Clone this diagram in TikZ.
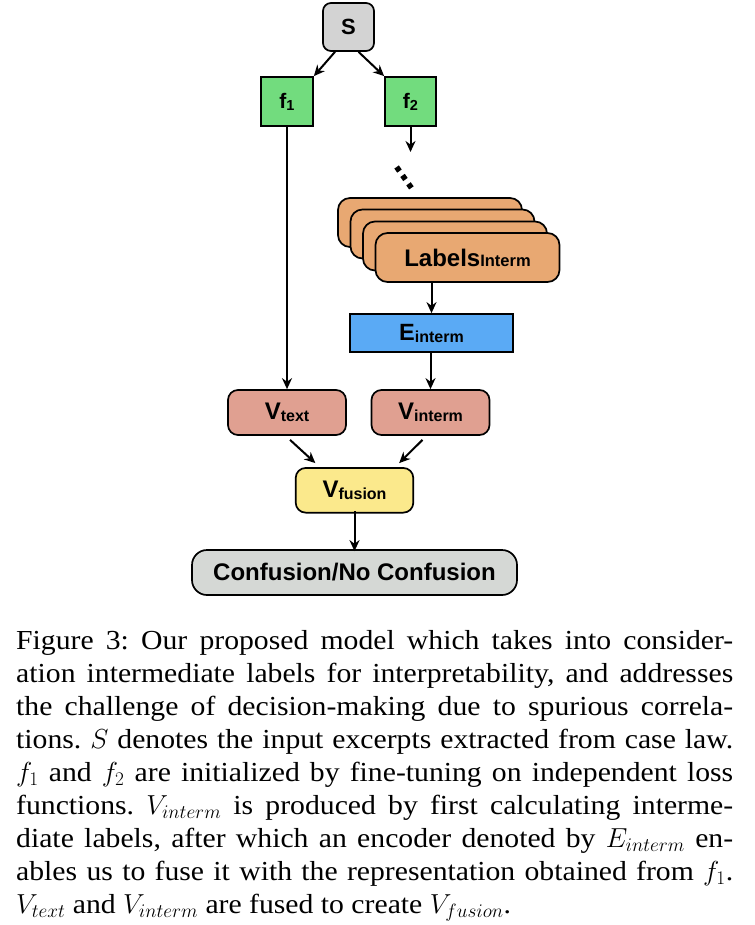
\documentclass[tikz,border=0pt]{standalone}
\usepackage{fix-cm}
\usepackage{fontspec}
\setmainfont{Liberation Serif}[FakeStretch=1.08]
\newfontfamily\dsans{Liberation Sans}
\usetikzlibrary{arrows.meta}
\definecolor{sgray}{HTML}{D3D3D3}
\definecolor{fgreen}{HTML}{72DC7E}
\definecolor{lorange}{HTML}{E8A872}
\definecolor{eblue}{HTML}{5AAAF5}
\definecolor{vred}{HTML}{E0A091}
\definecolor{vyellow}{HTML}{FBE98C}
\definecolor{cgray}{HTML}{D5D8D5}
\newcommand{\dsub}[2][16]{{\fontsize{#1}{#1}\selectfont\raisebox{-2pt}{#2}}}
\tikzset{
  box/.style={draw=black, line width=1.7pt, rounded corners=8pt, inner sep=0pt,
    font=\dsans\bfseries\fontsize{24}{24}\selectfont},
  arr/.style={-{Stealth[length=11pt,width=10pt]}, line width=2pt},
  labbox/.style={box, fill=lorange, minimum width=184pt, minimum height=49pt, rounded corners=12pt},
  vbox/.style={box, fill=vred, minimum width=118pt, minimum height=45pt, rounded corners=10pt},
}
\begin{document}
\begin{tikzpicture}[x=1pt,y=-1pt]
\useasboundingbox (0,0) rectangle (754,925);
\fill[white] (0,0) rectangle (754,925);

% top
\node[box, fill=sgray, minimum width=51pt, minimum height=48pt, font=\dsans\bfseries\fontsize{22}{22}\selectfont] (S) at (348.5,27) {S};
\node[box, fill=fgreen, rounded corners=0pt, minimum width=52pt, minimum height=49pt, font=\dsans\bfseries\fontsize{21}{21}\selectfont] (f1) at (287,101.5) {f\dsub[14.5]{1}};
\node[box, fill=fgreen, rounded corners=0pt, minimum width=51pt, minimum height=49pt, font=\dsans\bfseries\fontsize{21}{21}\selectfont] (f2) at (410.5,101.5) {f\dsub[14.5]{2}};
\draw[arr] ([xshift=-13.5pt]S.south) -- (f1.north east);
\draw[arr] ([xshift=10pt]S.south) -- (f2.north west);
\coordinate (f2end) at (410.5,152);
\draw[arr] (f2.south) -- (f2end);

% dots
\coordinate (d1) at (396.6,167);
\coordinate (d2) at (411.4,187.9);
\draw[line width=5.5pt, dash pattern=on 5pt off 5.3pt] (d1) -- (d2);

% labels stack
\node[labbox] (L1) at (430,222.5) {};
\node[labbox] (L2) at (442.5,234) {};
\node[labbox] (L3) at (455,246) {};
\node[labbox] (L4) at (467.5,257.5) {Labels{\fontsize{16.5}{16.5}\selectfont Interm}};

% encoder
\node[box, fill=eblue, rounded corners=0pt, minimum width=163pt, minimum height=38pt, font=\dsans\bfseries\fontsize{23.5}{23.5}\selectfont] (E) at (431.5,333) {E\dsub{interm}};
\draw[arr] (E.north |- L4.south) -- (E.north);

% V nodes
\node[vbox] (Vt) at (287,412.5) {V\dsub{text}};
\node[vbox] (Vi) at (430.5,412.5) {V\dsub{interm}};
\draw[arr] (f1.south) -- (Vt.north);
\draw[arr] (Vi.north |- E.south) -- (Vi.north);

\node[box, fill=vyellow, minimum width=117.6pt, minimum height=44.7pt, rounded corners=10pt] (Vf) at (354.5,490.3) {V\dsub{fusion}};
\draw[arr] ([shift={(3,4)}]Vt.south) -- ([shift={(20.5,-4)}]Vf.north west);
\draw[arr] ([shift={(-8,4)}]Vi.south) -- ([shift={(-15,-4)}]Vf.north east);

\node[box, fill=cgray, minimum width=325pt, minimum height=45pt, rounded corners=15pt] (C) at (354.5,572.5) {Confusion/No Confusion};
\draw[arr] ([yshift=2.5pt]Vf.south) -- ([yshift=-2pt]C.north);

% caption
\node[anchor=north west, inner sep=0pt, text width=717pt, align=justify,
  font=\fontsize{27.5}{33}\selectfont] (cap) at (16,630) {\frenchspacing\hyphenpenalty=10000\tolerance=10000%
Figure 3: Our proposed model which takes into consider-\linebreak
ation intermediate labels for interpretability, and addresses\linebreak
the challenge of decision-making due to spurious correla-\linebreak
tions. $S$ denotes the input excerpts extracted from case law.\linebreak
$f_1$ and $f_2$ are initialized by fine-tuning on independent loss\linebreak
functions. $V_{interm}$ is produced by first calculating interme-\linebreak
diate labels, after which an encoder denoted by $E_{interm}$ en-\linebreak
ables us to fuse it with the representation obtained from $f_1$.\linebreak
$V_{text}$ and $V_{interm}$ are fused to create $V_{fusion}$.};
\end{tikzpicture}
\end{document}
